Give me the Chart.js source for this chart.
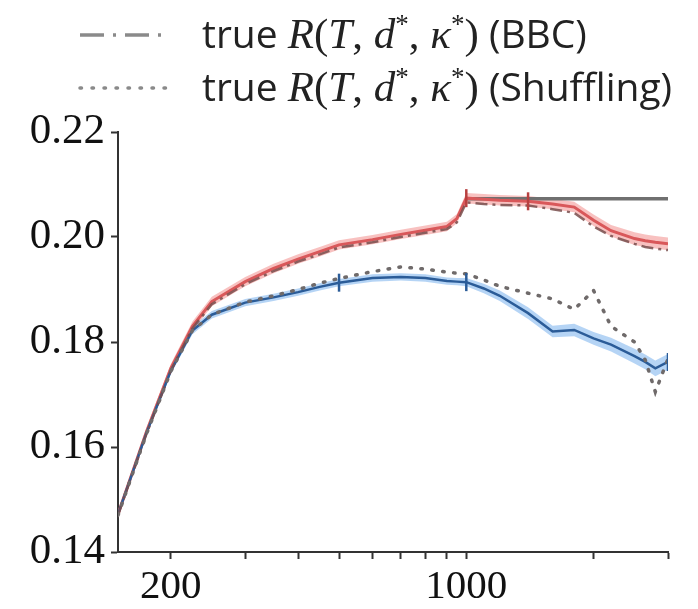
<!DOCTYPE html>
<html>
<head>
<meta charset="utf-8">
<script src="https://cdn.jsdelivr.net/npm/chart.js@4"></script>
<style>
  html, body { margin: 0; padding: 0; background: #fff; }
  #wrap { width: 698px; height: 609px; position: relative; }
</style>
</head>
<body>
<div id="wrap"><canvas id="riskChart" width="698" height="609"></canvas></div>
<script>
// sample sizes T (log x axis)
const T = [150, 175, 200, 225, 250, 300, 350, 400, 450, 500, 600, 700, 800, 900, 950, 1000,
           1100, 1200, 1400, 1600, 1800, 2000, 2200, 2500, 2650, 2800, 3000];

// estimated risk (red, BBC) and its band half width
const redMean = [0.1472, 0.1628, 0.1750, 0.1830, 0.1877, 0.1915, 0.1940, 0.1958, 0.1972, 0.1985, 0.1995, 0.2005, 0.2013, 0.2020, 0.2035, 0.2074,
                 0.2072, 0.2070, 0.2068, 0.2063, 0.2057, 0.2032, 0.2012, 0.1997, 0.1993, 0.1990, 0.1987];
const redBand = [0.0007, 0.0008, 0.0008, 0.0009, 0.0009, 0.0009, 0.0009, 0.0009, 0.0009, 0.0009, 0.0009, 0.0009, 0.0009, 0.0009, 0.0009, 0.0010,
                 0.0010, 0.0010, 0.0010, 0.0010, 0.0010, 0.0011, 0.0011, 0.0012, 0.0012, 0.0012, 0.0012];

// estimated risk (blue, Shuffling) and its band half width
const blueMean = [0.1472, 0.1626, 0.1745, 0.1822, 0.1852, 0.1875, 0.1885, 0.1895, 0.1905, 0.1913, 0.1922, 0.1924, 0.1922, 0.1916, 0.1915, 0.1914,
                  0.1902, 0.1888, 0.1855, 0.1820, 0.1823, 0.1807, 0.1795, 0.1773, 0.1762, 0.1750, 0.1762];
const blueBand = [0.0005, 0.0006, 0.0006, 0.0007, 0.0007, 0.0007, 0.0007, 0.0007, 0.0007, 0.0007, 0.0007, 0.0007, 0.0007, 0.0007, 0.0007, 0.0008,
                  0.0009, 0.0010, 0.0011, 0.0011, 0.0012, 0.0012, 0.0013, 0.0014, 0.0014, 0.0015, 0.0015];

// true R(T, d*, kappa*)
const bbcTrue = [0.1470, 0.1624, 0.1745, 0.1826, 0.1872, 0.1910, 0.1935, 0.1953, 0.1967, 0.1980, 0.1990, 0.2000, 0.2008, 0.2015, 0.2028, 0.2066,
                 0.2063, 0.2061, 0.2060, 0.2053, 0.2046, 0.2020, 0.2002, 0.1987, 0.1981, 0.1978, 0.1975];
const shufTrue = [0.1470, 0.1624, 0.1744, 0.1822, 0.1852, 0.1876, 0.1888, 0.1900, 0.1912, 0.1921, 0.1934, 0.1943, 0.1939, 0.1933, 0.1931, 0.1930,
                  0.1918, 0.1906, 0.1893, 0.1882, 0.1862, 0.1898, 0.1830, 0.1800, 0.1766, 0.1705, 0.1768];

// flat reference line
const flatT = [1000, 3000];
const flatY = [0.2073, 0.2073];

// vertical marks on the curves
const redMarkT = [1000, 1400];
const blueMarkT = [500, 1000, 3000];

// axis ticks
const xTicks = [200, 300, 400, 500, 600, 700, 800, 900, 1000, 2000, 3000];
const xLabels = [200, 1000];
const yTicks = [0.14, 0.16, 0.18, 0.20, 0.22];

// legend entries
const legendNames = ['BBC', 'Shuffling'];

const pts = (xs, ys) => xs.map((x, i) => ({ x: x, y: ys[i] }));
const marks = (xs, ys) => xs.map(x => ({ x: x, y: ys[T.indexOf(x)] }));

const RED = '#d9585a';
const RED_FILL = 'rgba(242, 142, 140, 0.55)';
const BLUE = '#2b5c98';
const BLUE_FILL = 'rgba(120, 176, 236, 0.55)';
const DASHDOT = 'rgba(120, 78, 76, 0.85)';
const DOTTED = '#6f6a6a';
const GRAY = '#707070';
const AXIS = '#333';

const serif = '"Liberation Serif", "DejaVu Serif", serif';
const sans = '"Open Sans", "Liberation Sans", sans-serif';

// legend drawn by hand: mixed sans / math italic text
const legendPlugin = {
    id: 'mathLegend',
    afterDraw(chart) {
        const ctx = chart.ctx;
        const rows = [
            { y: 35, dash: [24, 9, 3, 9], cap: 'butt' },
            { y: 88, dash: [1.5, 10.5], cap: 'round' }
        ];
        const s = 39, m = 43;
        const parts = name => [
            ['true ', `${s}px ${sans}`, 0],
            ['R', `italic ${m}px ${serif}`, 0],
            ['(', `${m}px ${serif}`, 0],
            ['T', `italic ${m}px ${serif}`, 0],
            [', ', `${m}px ${serif}`, 0],
            ['d', `italic ${m}px ${serif}`, 0],
            ['*', `${m - 16}px ${serif}`, -15],
            [', ', `${m}px ${serif}`, 0],
            ['κ', `italic ${m}px ${serif}`, 0],
            ['*', `${m - 16}px ${serif}`, -15],
            [')', `${m}px ${serif}`, 0],
            [' (' + name + ')', `${s}px ${sans}`, 0]
        ];
        ctx.save();
        rows.forEach((row, r) => {
            ctx.strokeStyle = '#8a8a8a';
            ctx.lineWidth = 3.5;
            ctx.lineCap = row.cap;
            ctx.setLineDash(row.dash);
            ctx.beginPath();
            ctx.moveTo(80, row.y);
            ctx.lineTo(166, row.y);
            ctx.stroke();
            ctx.setLineDash([]);

            let x = 202;
            ctx.fillStyle = '#222';
            ctx.textBaseline = 'alphabetic';
            parts(legendNames[r]).forEach(([txt, font, dy]) => {
                ctx.font = font;
                ctx.fillText(txt, x, row.y + 13 + dy);
                x += ctx.measureText(txt).width;
            });
        });
        ctx.restore();
    }
};

const ctx = document.getElementById('riskChart').getContext('2d');
window.riskChart = new Chart(ctx, {
    type: 'line',
    data: {
        datasets: [
            // markers on top
            { data: marks(redMarkT, redMean), showLine: false, pointStyle: 'line', rotation: 90,
              pointRadius: 9, pointBorderWidth: 2.5, borderColor: '#b84040', order: 0 },
            { data: marks(blueMarkT, blueMean), showLine: false, pointStyle: 'line', rotation: 90,
              pointRadius: 9, pointBorderWidth: 2.5, borderColor: BLUE, order: 0 },
            // true curves
            { data: pts(T, shufTrue), borderColor: DOTTED, borderWidth: 3.5, borderDash: [1.5, 9.5],
              borderCapStyle: 'round', pointRadius: 0, order: 1 },
            { data: pts(T, bbcTrue), borderColor: DASHDOT, borderWidth: 2.5, borderDash: [12, 5, 3, 5],
              pointRadius: 0, order: 1 },
            // estimated mean curves
            { data: pts(T, blueMean), borderColor: BLUE, borderWidth: 2.5, pointRadius: 0, order: 2 },
            { data: pts(T, redMean), borderColor: RED, borderWidth: 3, pointRadius: 0, order: 2 },
            // flat line
            { data: pts(flatT, flatY), borderColor: GRAY, borderWidth: 3.5, pointRadius: 0, order: 3 },
            // bands
            { data: pts(T, blueMean.map((v, i) => v + blueBand[i])), borderWidth: 0, pointRadius: 0,
              fill: '+1', backgroundColor: BLUE_FILL, order: 4 },
            { data: pts(T, blueMean.map((v, i) => v - blueBand[i])), borderWidth: 0, pointRadius: 0,
              fill: false, order: 4 },
            { data: pts(T, redMean.map((v, i) => v + redBand[i])), borderWidth: 0, pointRadius: 0,
              fill: '+1', backgroundColor: RED_FILL, order: 5 },
            { data: pts(T, redMean.map((v, i) => v - redBand[i])), borderWidth: 0, pointRadius: 0,
              fill: false, order: 5 }
        ]
    },
    options: {
        responsive: false,
        animation: false,
        events: [],
        layout: { padding: { top: 132, right: 30, left: 0, bottom: 0 } },
        elements: { line: { tension: 0 } },
        plugins: {
            legend: { display: false },
            tooltip: { enabled: false }
        },
        scales: {
            x: {
                type: 'logarithmic',
                min: 150,
                max: 3000,
                afterBuildTicks: scale => {
                    scale.ticks = xTicks.map(v => ({ value: v }));
                },
                afterFit: scale => { scale.height = 57; },
                ticks: {
                    autoSkip: false,
                    maxRotation: 0,
                    padding: 4,
                    color: '#111',
                    font: { family: serif, size: 41 },
                    callback: value => (xLabels.includes(value) ? String(value) : '')
                },
                grid: { drawOnChartArea: false, drawTicks: true, tickLength: 7, tickColor: AXIS, tickWidth: 2 },
                border: { display: true, color: AXIS, width: 2 }
            },
            y: {
                min: 0.14,
                max: 0.22,
                afterBuildTicks: scale => {
                    scale.ticks = yTicks.map(v => ({ value: v }));
                },
                afterFit: scale => { scale.width = 118; },
                ticks: {
                    padding: 6,
                    color: '#111',
                    font: { family: serif, size: 43 },
                    callback: value => value.toFixed(2)
                },
                grid: { drawOnChartArea: false, drawTicks: true, tickLength: 7, tickColor: AXIS, tickWidth: 2 },
                border: { display: true, color: AXIS, width: 2 }
            }
        }
    },
    plugins: [legendPlugin]
});
</script>
</body>
</html>
